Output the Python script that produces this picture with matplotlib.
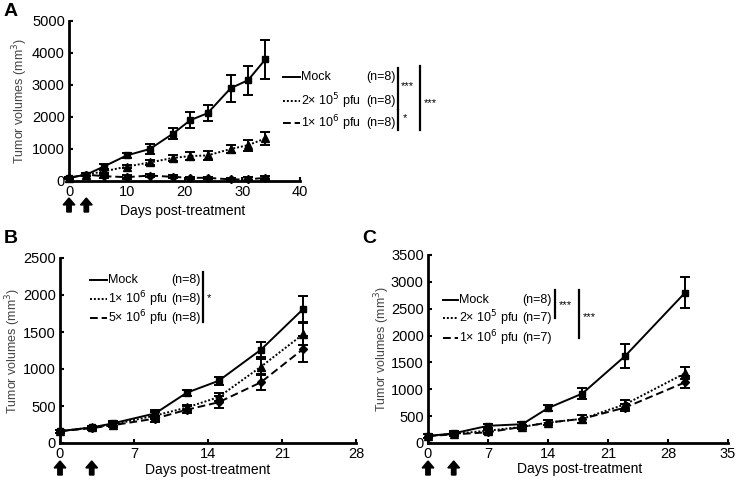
import matplotlib
matplotlib.use("Agg")
import matplotlib.pyplot as plt
import matplotlib.lines as mlines
import matplotlib.patches as mpatches

plt.rcParams['font.family'] = ['Liberation Sans', 'DejaVu Sans']

# ---------------- Data ----------------
# Panel A
a_days = [0, 3, 6, 10, 14, 18, 21, 24, 28, 31, 34]
a_mock = [100, 200, 450, 800, 1000, 1480, 1900, 2120, 2900, 3150, 3800]
a_mock_err = [40, 50, 80, 70, 150, 180, 250, 250, 420, 450, 600]
a_low = [100, 200, 300, 450, 580, 720, 780, 800, 1000, 1120, 1330]
a_low_err = [30, 40, 50, 50, 80, 100, 120, 130, 130, 170, 200]
a_high = [100, 200, 150, 120, 170, 130, 100, 100, 50, 50, 100]
a_high_err = [30, 40, 50, 60, 60, 50, 40, 40, 40, 60, 60]

# Panel B
b_days = [0, 3, 5, 9, 12, 15, 19, 23]
b_mock = [160, 210, 265, 400, 680, 840, 1260, 1810]
b_mock_err = [20, 25, 30, 50, 40, 50, 100, 170]
b_low = [160, 210, 250, 370, 480, 620, 1030, 1470]
b_low_err = [20, 20, 30, 50, 40, 50, 110, 150]
b_high = [160, 200, 240, 330, 450, 550, 820, 1270]
b_high_err = [20, 20, 30, 40, 50, 80, 110, 180]

# Panel C
c_days = [0, 3, 7, 11, 14, 18, 23, 30]
c_mock = [130, 180, 320, 350, 650, 920, 1620, 2800]
c_mock_err = [30, 40, 40, 40, 50, 100, 220, 290]
c_low = [130, 170, 230, 300, 380, 450, 720, 1300]
c_low_err = [30, 30, 40, 40, 50, 80, 80, 110]
c_high = [130, 160, 200, 300, 380, 450, 660, 1130]
c_high_err = [30, 30, 40, 40, 50, 80, 70, 110]

a_labels = ["Mock", "2\u00d7 10$^5$ pfu", "1\u00d7 10$^6$ pfu"]
a_n = ["(n=8)", "(n=8)", "(n=8)"]
b_labels = ["Mock", "1\u00d7 10$^6$ pfu", "5\u00d7 10$^6$ pfu"]
b_n = ["(n=8)", "(n=8)", "(n=8)"]
c_labels = ["Mock", "2\u00d7 10$^5$ pfu", "1\u00d7 10$^6$ pfu"]
c_n = ["(n=8)", "(n=7)", "(n=7)"]

W, H = 736, 493
fig = plt.figure(figsize=(W / 100, H / 100), dpi=100)


def px(x, y):
    return x / W, 1 - y / H


def add_ax(l, t, r, b):
    return fig.add_axes([l / W, 1 - b / H, (r - l) / W, (b - t) / H])


styles = [dict(ls='-', marker='s', ms=5),
          dict(ls=(0, (1, 1)), marker='^', ms=6),
          dict(ls=(0, (4, 2)), marker='D', ms=4.5)]


def draw(ax, days, series, errs, xmax, xticks, ymax, yticks, fs):
    for s, e, st in zip(series, errs, styles):
        ax.errorbar(days, s, yerr=e, color='black', lw=1.4, ls=st['ls'],
                    marker=st['marker'], ms=st['ms'], capsize=3.5, capthick=1.4,
                    elinewidth=1.4, clip_on=False, zorder=3)
    ax.set_xlim(0, xmax)
    ax.set_ylim(0, ymax)
    ax.set_xticks(xticks)
    ax.set_yticks(yticks)
    for sp in ['top', 'right']:
        ax.spines[sp].set_visible(False)
    for sp in ['left', 'bottom']:
        ax.spines[sp].set_linewidth(2)
    ax.tick_params(direction='in', length=3, width=1.5, labelsize=fs, pad=3)
    ax.patch.set_alpha(0)


# Panel A
axA = add_ax(69, 21, 300, 181)
draw(axA, a_days, [a_mock, a_low, a_high], [a_mock_err, a_low_err, a_high_err],
     40, [0, 10, 20, 30, 40], 5000, [0, 1000, 2000, 3000, 4000, 5000], 10.5)

# Panel B
axB = add_ax(60, 258, 356, 443)
draw(axB, b_days, [b_mock, b_low, b_high], [b_mock_err, b_low_err, b_high_err],
     28, [0, 7, 14, 21, 28], 2500, [0, 500, 1000, 1500, 2000, 2500], 10.5)

# Panel C
axC = add_ax(428, 255, 728, 443)
draw(axC, c_days, [c_mock, c_low, c_high], [c_mock_err, c_low_err, c_high_err],
     35, [0, 7, 14, 21, 28, 35], 3500, [0, 500, 1000, 1500, 2000, 2500, 3000, 3500], 10.5)

# Panel letters
for letter, (x, y) in zip("ABC", [(4, 12), (4, 238), (362, 238)]):
    fig.text(*px(x, y), letter, fontsize=14, fontweight='bold', va='center', ha='left')

# Axis labels
ylab = "Tumor volumes (mm$^3$)"
for (x, y) in [(20, 101), (13, 351), (382, 349)]:
    fig.text(*px(x, y), ylab, rotation=90, fontsize=9, color='#444444',
             va='center', ha='center')
for (x, y) in [(183, 211), (208, 470), (580, 469)]:
    fig.text(*px(x, y), "Days post-treatment", fontsize=10, va='center', ha='center')

fig.canvas.draw()


# Upward arrows marking treatment days
def up_arrows(ax, yc):
    for d in (0, 3):
        xd = ax.transData.transform((d, 0))[0]
        fx = xd / W
        fy_bot = 1 - (yc + 7) / H
        fy_top = 1 - (yc - 7) / H
        fig.patches.append(mpatches.FancyArrow(
            fx, fy_bot, 0, fy_top - fy_bot, width=0.006, head_width=0.016,
            head_length=0.014, length_includes_head=True, color='black',
            transform=fig.transFigure))


up_arrows(axA, 205)
up_arrows(axB, 468)
up_arrows(axC, 468)


# Legends
def legend(x_line0, x_line1, x_n, rows, labels, ns, fs=9):
    for (y, lab, n, st) in zip(rows, labels, ns, styles):
        fig.add_artist(mlines.Line2D([x_line0 / W, x_line1 / W], [1 - y / H, 1 - y / H],
                                     color='black', lw=1.4, ls=st['ls']))
        fig.text(*px(x_line1 + 1, y), lab, fontsize=fs, va='center', ha='left')
        fig.text(*px(x_n, y), n, fontsize=fs, va='center', ha='right')


def bar(x, y0, y1, star, sx, sy):
    fig.add_artist(mlines.Line2D([x / W, x / W], [1 - y0 / H, 1 - y1 / H],
                                 color='black', lw=1.6))
    fig.text(*px(sx, sy), star, fontsize=8, va='center', ha='left')


legend(283, 300, 396, [77, 101, 123], a_labels, a_n)
bar(398, 68, 109, "***", 401, 86)
bar(398, 110, 130, "*", 403, 118)
bar(420, 66, 130, "***", 424, 103)

legend(90, 107, 201, [280, 299, 318], b_labels, b_n)
bar(203, 272, 322, "*", 207, 298)

legend(443, 458, 552, [300, 318, 338], c_labels, c_n)
bar(555, 290, 318, "***", 559, 305)
bar(579, 290, 338, "***", 583, 317)

fig.savefig("out.png", dpi=100)
